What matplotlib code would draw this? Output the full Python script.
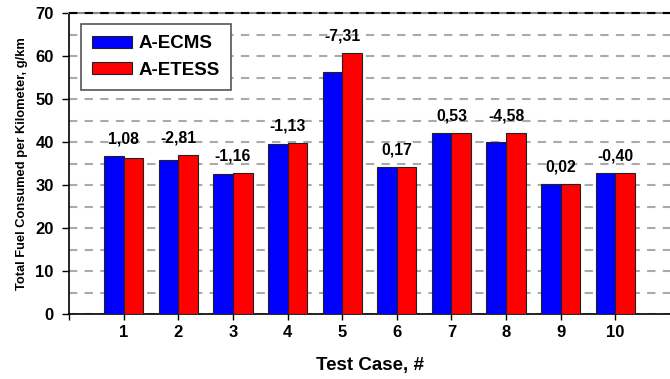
import matplotlib.pyplot as plt, numpy as np, matplotlib
matplotlib.rc('font', **{'family': 'Liberation Sans', 'weight': 'bold'})

# data
cases = ['1', '2', '3', '4', '5', '6', '7', '8', '9', '10']
ecms = [36.7, 35.8, 32.5, 39.5, 56.3, 34.3, 42.2, 40.1, 30.3, 32.8]
etess = [36.3, 36.9, 32.8, 39.8, 60.7, 34.3, 42.0, 42.0, 30.3, 32.9]
diff_labels = ['1,08', '-2,81', '-1,16', '-1,13', '-7,31', '0,17', '0,53', '-4,58', '0,02', '-0,40']

f = plt.figure(figsize=(6.7, 3.79), dpi=100)
ax = f.add_axes([69/670, 1 - 314/379, 1 - 69/670, 301/379])

x = np.arange(1, len(cases) + 1)
w = 0.36
ax.bar(x - w/2, ecms, w, color='#0000ff', edgecolor='#222222', lw=0.8, label='A-ECMS', zorder=3)
ax.bar(x + w/2, etess, w, color='#ff0000', edgecolor='#222222', lw=0.8, label='A-ETESS', zorder=3)

for i, lab in enumerate(diff_labels):
	top = max(ecms[i], etess[i])
	ax.text(x[i], top + 2.2, lab, ha='center', va='bottom', fontsize=11.3, fontweight='bold')

ax.set_xlim(0, 11)
ax.set_ylim(0, 70)
ax.set_xticks([0] + list(x))
ax.set_xticklabels([''] + cases, fontsize=12)
ax.set_yticks(np.arange(0, 71, 10))
ax.set_yticklabels([str(v) for v in range(0, 71, 10)], fontsize=12)
ax.set_yticks(np.arange(5, 70, 10), minor=True)
ax.tick_params(axis='y', which='minor', length=0)
ax.tick_params(axis='y', which='major', length=5, width=1, direction='out', pad=6)
ax.tick_params(axis='x', which='major', length=4, width=1, direction='out', pad=4)
ax.grid(axis='y', which='both', ls=(0, (4, 3.5)), color='#aaaaaa', lw=1.5, zorder=0)
ax.axhline(70, ls=(0, (4, 3.5)), color='black', lw=1.5, zorder=4, clip_on=False)

ax.spines['right'].set_visible(False)
ax.spines['top'].set_color('#888888')
ax.spines['top'].set_linewidth(1.5)
ax.spines['left'].set_linewidth(1.2)
ax.spines['bottom'].set_linewidth(1.2)

ax.set_xlabel('Test Case, #', fontsize=13.5, fontweight='bold', labelpad=12)
ax.set_ylabel('Total Fuel Consumed per Kilometer, g/km', fontsize=9.3, fontweight='bold', labelpad=5)

leg = ax.legend(loc='upper left', bbox_to_anchor=(0.02, 0.963), borderaxespad=0, fontsize=13.5,
				fancybox=False, edgecolor='#555555', framealpha=1, handlelength=2.1, handleheight=0.65,
				handletextpad=0.35, borderpad=0.6, labelspacing=0.5)
leg.get_frame().set_linewidth(1.2)

f.savefig('out.png', dpi=100)
